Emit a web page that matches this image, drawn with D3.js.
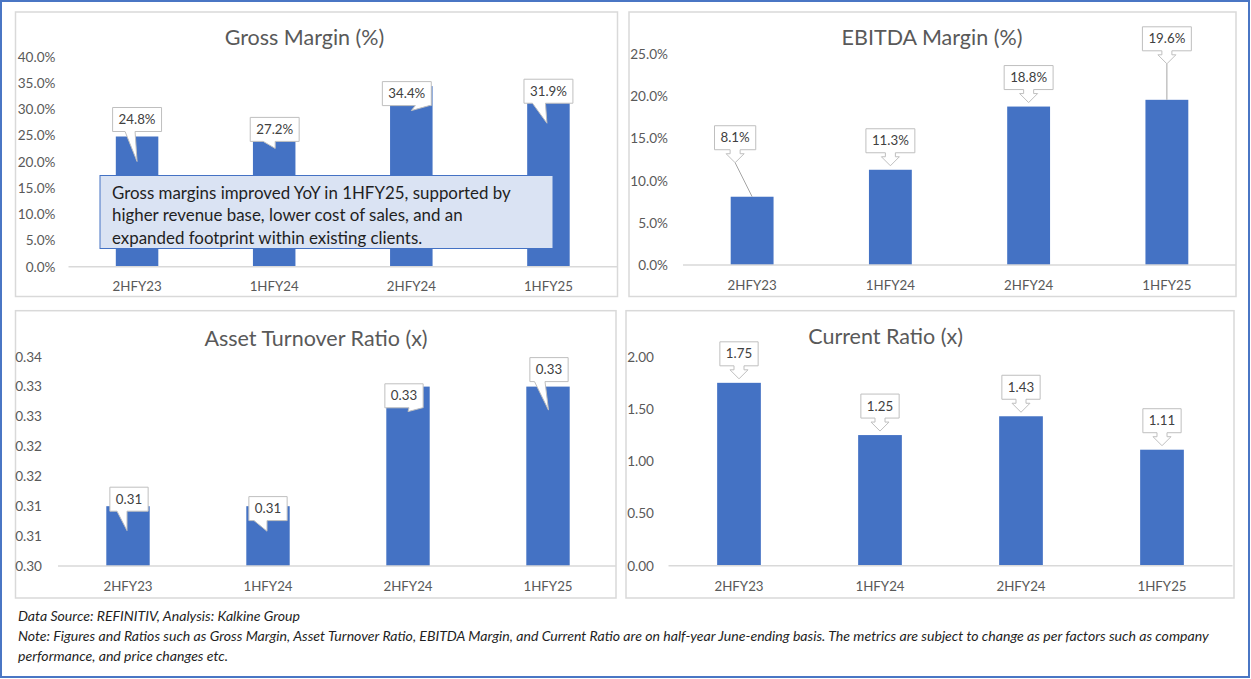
<!DOCTYPE html>
<html>
<head>
<meta charset="utf-8">
<script src="https://cdn.jsdelivr.net/npm/d3@7"></script>
<style>
  body { margin: 0; background: #fff; }
  svg { display: block; font-family: Lato, 'Open Sans', sans-serif; }
</style>
</head>
<body>
<svg id="chart"></svg>
<script>
// data
const categories = ['2HFY23', '1HFY24', '2HFY24', '1HFY25'];
const grossMargin = [24.8, 27.2, 34.4, 31.9];
const ebitdaMargin = [8.1, 11.3, 18.8, 19.6];
const assetTurnover = [0.31, 0.31, 0.33, 0.33];
const currentRatio = [1.75, 1.25, 1.43, 1.11];

const grossTicks = [0, 5, 10, 15, 20, 25, 30, 35, 40];
const grossTickLabels = ['0.0%', '5.0%', '10.0%', '15.0%', '20.0%', '25.0%', '30.0%', '35.0%', '40.0%'];
const ebitdaTicks = [0, 5, 10, 15, 20, 25];
const ebitdaTickLabels = ['0.0%', '5.0%', '10.0%', '15.0%', '20.0%', '25.0%'];
const assetTicks = [0.300, 0.305, 0.310, 0.315, 0.320, 0.325, 0.330, 0.335];
const assetTickLabels = ['0.30', '0.31', '0.31', '0.32', '0.32', '0.33', '0.33', '0.34'];
const currentTicks = [0, 0.5, 1, 1.5, 2];
const currentTickLabels = ['0.00', '0.50', '1.00', '1.50', '2.00'];

const titles = ['Gross Margin (%)', 'EBITDA Margin (%)', 'Asset Turnover Ratio (x)', 'Current Ratio (x)'];
const noteLines = [
  'Gross margins improved YoY in 1HFY25, supported by',
  'higher revenue base, lower cost of sales, and an',
  'expanded footprint within existing clients.'
];
const footerLines = [
  'Data Source: REFINITIV, Analysis: Kalkine Group',
  'Note: Figures and Ratios such as Gross Margin, Asset Turnover Ratio, EBITDA Margin, and Current Ratio are on half-year June-ending basis. The metrics are subject to change as per factors such as company',
  'performance, and price changes etc.'
];

// callout placement (pixels, relative to bar centre / bar top), as dragged in the original
const grossCallouts = [
  { dx: 0, top: -29, base: [-12, -2], tip: [0, 25] },
  { dx: 0.5, top: -6.5, base: [-11, 1], tip: [1, 24.5] },
  { dx: -4.5, top: -4.5, base: [4, 18], tip: [0, 24.5] },
  { dx: 0, top: -20, base: [-16, -3], tip: [-1.5, 24] }
];
const assetCallouts = [
  { dx: 1, top: -19, base: [-11, -1], tip: [-1, 24.4] },
  { dx: 0, top: -9.6, base: [-14, -1], tip: [-1, 25] },
  { dx: -4, top: -2.8, base: [1, 14.5], tip: [0, 25] },
  { dx: 1, top: -29, base: [-13.5, -3], tip: [0.5, 23.5] }
];
const ebitdaCallouts = [
  { dx: -17, top: -71 }, { dx: 0, top: -41 }, { dx: 0, top: -41 }, { dx: 0, top: -73 }
];
const currentCallouts = [
  { dx: 0, top: -41 }, { dx: 0, top: -41 }, { dx: 0, top: -41 }, { dx: 0, top: -41 }
];

const W = 1251, H = 679;
const barColor = '#4472C4';
const greyText = '#595959';

const svg = d3.select('#chart').attr('width', W).attr('height', H);

svg.append('rect')
  .attr('x', 1).attr('y', 1).attr('width', W - 3).attr('height', H - 3)
  .attr('fill', '#fff').attr('stroke', '#4a76c4').attr('stroke-width', 2);

function drawPanel(p) {
  const g = svg.append('g');

  g.append('rect')
    .attr('x', p.box[0]).attr('y', p.box[1]).attr('width', p.box[2]).attr('height', p.box[3])
    .attr('fill', '#fff').attr('stroke', '#d9d9d9').attr('stroke-width', 1.5);

  const x = d3.scaleBand().domain(categories).range(p.xRange).paddingInner(0.69).paddingOuter(0.345);
  const y = d3.scaleLinear().domain(p.domain).range(p.yRange);

  // title
  g.append('text')
    .attr('x', p.title[0]).attr('y', p.title[1])
    .attr('text-anchor', 'middle').attr('dy', '0.35em')
    .attr('fill', greyText).style('font-size', '21.5px')
    .text(p.titleText);

  // y axis labels
  const yAxis = d3.axisLeft(y).tickValues(p.ticks).tickSize(0).tickPadding(0)
    .tickFormat((d, i) => p.tickLabels[i]);
  g.append('g')
    .attr('transform', `translate(${p.yLabelX},0)`)
    .call(yAxis)
    .call(a => a.select('.domain').remove())
    .selectAll('text')
    .attr('fill', greyText)
    .style('font-family', 'Lato')
    .style('font-size', '13.6px');

  // category labels
  const xAxis = d3.axisBottom(x).tickSize(0).tickPadding(0);
  g.append('g')
    .attr('transform', `translate(0,${p.catY})`)
    .call(xAxis)
    .call(a => a.select('.domain').remove())
    .selectAll('text')
    .attr('dy', '0.35em')
    .attr('fill', greyText)
    .style('font-family', 'Lato')
    .style('font-size', '13.3px');

  // bars
  g.selectAll('rect.bar')
    .data(p.values)
    .join('rect')
    .attr('class', 'bar')
    .attr('x', (d, i) => x(categories[i]))
    .attr('width', x.bandwidth())
    .attr('y', d => y(d))
    .attr('height', d => y(p.domain[0]) - y(d))
    .attr('fill', barColor);

  // baseline
  g.append('line')
    .attr('x1', p.xRange[0]).attr('x2', p.baseEnd)
    .attr('y1', y(p.domain[0])).attr('y2', y(p.domain[0]))
    .attr('stroke', '#d9d9d9').attr('stroke-width', 1.5);

  // callouts
  p.values.forEach((v, i) => {
    const cx = x(categories[i]) + x.bandwidth() / 2;
    const by = y(v);
    const c = p.callouts[i];
    const cg = g.append('g');
    const path = cg.append('path');
    const label = cg.append('text')
      .attr('text-anchor', 'middle')
      .attr('fill', '#404040')
      .style('font-size', '13.3px')
      .text(p.fmt(v));
    const tw = label.node().getComputedTextLength();
    const bw = tw + 12, bh = 24;
    const bx = cx + c.dx - bw / 2, bt = by + c.top, bb = bt + bh;
    label.attr('x', cx + c.dx).attr('y', bt + bh / 2).attr('dy', '0.35em');

    let d;
    if (p.kind === 'wedge') {
      d = `M${bx},${bt}H${bx + bw}V${bb}H${cx + c.base[1]}L${cx + c.tip[0]},${by + c.tip[1]}L${cx + c.base[0]},${bb}H${bx}Z`;
    } else {
      const ax = cx + c.dx, sw = 10, sl = 4, hw = 18, hl = 9;
      d = `M${bx},${bt}H${bx + bw}V${bb}H${ax + sw / 2}V${bb + sl}H${ax + hw / 2}L${ax},${bb + sl + hl}` +
          `L${ax - hw / 2},${bb + sl}H${ax - sw / 2}V${bb}H${bx}Z`;
      const tipY = bb + sl + hl;
      if (by - tipY > 8) {
        cg.insert('line', 'path')
          .attr('x1', ax).attr('y1', tipY).attr('x2', cx).attr('y2', by)
          .attr('stroke', '#a6a6a6').attr('stroke-width', 1);
      }
    }
    path.attr('d', d).attr('fill', '#fff').attr('stroke', '#bfbfbf').attr('stroke-width', 1);
  });

  return g;
}

const pct = v => d3.format('.1f')(v) + '%';
const dec = v => d3.format('.2f')(v);

const p1 = drawPanel({
  box: [15.5, 12, 602, 284.5], xRange: [68.5, 617], baseEnd: 617.5,
  domain: [0, 40], yRange: [266.7, 56.7], ticks: grossTicks, tickLabels: grossTickLabels,
  yLabelX: 55.5, catY: 286, title: [304.5, 37], titleText: titles[0],
  values: grossMargin, fmt: pct, kind: 'wedge', callouts: grossCallouts
});

drawPanel({
  box: [629, 12, 607, 284.5], xRange: [683, 1236], baseEnd: 1236,
  domain: [0, 25], yRange: [265, 54.3], ticks: ebitdaTicks, tickLabels: ebitdaTickLabels,
  yLabelX: 668, catY: 285, title: [932, 37], titleText: titles[1],
  values: ebitdaMargin, fmt: pct, kind: 'arrow', callouts: ebitdaCallouts
});

drawPanel({
  box: [15.5, 310.7, 600.5, 287.3], xRange: [58, 618], baseEnd: 616,
  domain: [0.300, 0.335], yRange: [566, 356.7], ticks: assetTicks, tickLabels: assetTickLabels,
  yLabelX: 42, catY: 586, title: [316, 338], titleText: titles[2],
  values: assetTurnover, fmt: dec, kind: 'wedge', callouts: assetCallouts
});

drawPanel({
  box: [626, 310.7, 608, 287.3], xRange: [668.5, 1232.5], baseEnd: 1232.5,
  domain: [0, 2], yRange: [565.7, 356.7], ticks: currentTicks, tickLabels: currentTickLabels,
  yLabelX: 654, catY: 586, title: [885.6, 336], titleText: titles[3],
  values: currentRatio, fmt: dec, kind: 'arrow', callouts: currentCallouts
});

// commentary box on the gross margin panel
p1.append('rect')
  .attr('x', 100).attr('y', 175.5).attr('width', 453).attr('height', 73)
  .attr('fill', '#dae3f3').attr('stroke', '#4472C4').attr('stroke-width', 1);
p1.selectAll('text.note')
  .data(noteLines)
  .join('text')
  .attr('class', 'note')
  .attr('x', 112)
  .attr('y', (d, i) => 199 + i * 22.3)
  .attr('fill', '#1f1f1f')
  .style('font-size', '16.9px')
  .text(d => d);

// footer
svg.selectAll('text.footer')
  .data(footerLines)
  .join('text')
  .attr('class', 'footer')
  .attr('x', 18)
  .attr('y', (d, i) => 621 + i * 20)
  .attr('fill', '#1f1f1f')
  .style('font-size', '14.1px')
  .style('font-style', 'italic')
  .text(d => d);
</script>
</body>
</html>
